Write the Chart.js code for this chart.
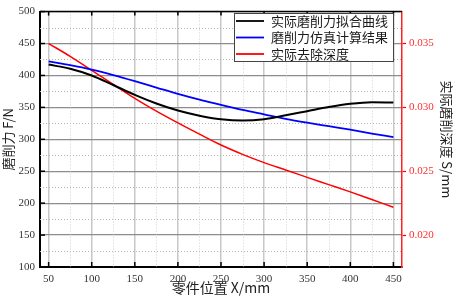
<!DOCTYPE html>
<html>
<head>
<meta charset="utf-8">
<script src="https://cdn.jsdelivr.net/npm/chart.js"></script>
<style>
  html, body { margin: 0; padding: 0; background: #fff; }
  #wrap { width: 453px; height: 299px; }
</style>
</head>
<body>
<div id="wrap"><canvas id="chart" width="453" height="299"></canvas></div>
<script>
// --- Data ---
const positions = [50, 75, 100, 125, 150, 175, 200, 225, 250, 275, 300, 325, 350, 375, 400, 425, 450];
const fitForce = [417, 410.5, 400, 385, 369.5, 356, 345, 337, 331.5, 329.5, 331.5, 337.5, 344, 350.5, 355.5, 358, 357.5];
const simForce = [422, 416, 409, 400.5, 391, 381, 371, 362, 354, 346, 339, 332, 326, 320.5, 315, 309, 303.5];
const cutDepth = [0.0350, 0.0340, 0.0329, 0.0318, 0.0307, 0.0297, 0.02878, 0.0279, 0.02705, 0.02632, 0.02567, 0.0251, 0.02452, 0.02395, 0.02338, 0.02278, 0.02218];

const xTicks = [50, 100, 150, 200, 250, 300, 350, 400, 450];
const forceTicks = [100, 150, 200, 250, 300, 350, 400, 450, 500];
const depthTicks = [0.020, 0.025, 0.030, 0.035];

const seriesLabels = ['实际磨削力拟合曲线', '磨削力仿真计算结果', '实际去除深度'];

const serif = "'Liberation Serif', 'DejaVu Serif', serif";
const cjk = "'Noto Sans CJK SC', sans-serif";

function toPoints(xs, ys) {
    return xs.map((x, i) => ({ x: x, y: ys[i] }));
}

// --- Minor grid, frame, inward ticks, legend ---
const decorPlugin = {
    id: 'decor',
    beforeDatasetsDraw(chart) {
        const { ctx, chartArea: a, scales } = chart;
        ctx.save();
        ctx.strokeStyle = '#b4b4b4';
        ctx.lineWidth = 1;
        ctx.setLineDash([1, 2]);
        for (let v = 125; v < 500; v += 50) {
            const y = Math.round(scales.y.getPixelForValue(v)) + 0.5;
            ctx.beginPath(); ctx.moveTo(a.left, y); ctx.lineTo(a.right, y); ctx.stroke();
        }
        ctx.strokeStyle = '#d0d0d0';
        for (let v = 75; v < 460; v += 50) {
            const x = Math.round(scales.x.getPixelForValue(v)) + 0.5;
            ctx.beginPath(); ctx.moveTo(x, a.top); ctx.lineTo(x, a.bottom); ctx.stroke();
        }
        ctx.restore();
    },
    afterDraw(chart) {
        const { ctx, chartArea: a, scales } = chart;
        ctx.save();
        // top frame line
        ctx.strokeStyle = '#000';
        ctx.lineWidth = 1.5;
        ctx.beginPath(); ctx.moveTo(a.left, a.top); ctx.lineTo(a.right, a.top); ctx.stroke();

        // inward ticks
        ctx.lineWidth = 1.5;
        forceTicks.forEach(v => {
            const y = scales.y.getPixelForValue(v);
            ctx.beginPath(); ctx.moveTo(a.left, y); ctx.lineTo(a.left + 5, y); ctx.stroke();
        });
        xTicks.forEach(v => {
            const x = scales.x.getPixelForValue(v);
            ctx.beginPath(); ctx.moveTo(x, a.bottom); ctx.lineTo(x, a.bottom - 5); ctx.stroke();
            ctx.beginPath(); ctx.moveTo(x, a.top); ctx.lineTo(x, a.top + 4); ctx.stroke();
        });

        // legend box
        const bx = 234, by = 13, bw = 159, bh = 48;
        ctx.fillStyle = '#fff';
        ctx.fillRect(bx, by, bw, bh);
        ctx.strokeStyle = '#444';
        ctx.lineWidth = 1;
        ctx.strokeRect(bx + 0.5, by + 0.5, bw, bh);
        ctx.font = '13px ' + cjk;
        ctx.textBaseline = 'middle';
        chart.data.datasets.forEach((ds, i) => {
            const y = 21 + i * 16.5;
            ctx.strokeStyle = ds.borderColor;
            ctx.lineWidth = 1.8;
            ctx.beginPath(); ctx.moveTo(bx + 2, y); ctx.lineTo(bx + 30, y); ctx.stroke();
            ctx.fillStyle = '#1a1a1a';
            ctx.fillText(ds.label, bx + 37, y);
        });
        ctx.restore();
    }
};

new Chart(document.getElementById('chart'), {
    type: 'line',
    data: {
        datasets: [
            {
                label: seriesLabels[0],
                data: toPoints(positions, fitForce),
                borderColor: '#000000',
                borderWidth: 2,
                yAxisID: 'y',
                pointRadius: 0,
                cubicInterpolationMode: 'monotone'
            },
            {
                label: seriesLabels[1],
                data: toPoints(positions, simForce),
                borderColor: '#0000ff',
                borderWidth: 1.8,
                yAxisID: 'y',
                pointRadius: 0,
                cubicInterpolationMode: 'monotone'
            },
            {
                label: seriesLabels[2],
                data: toPoints(positions, cutDepth),
                borderColor: '#ff0000',
                borderWidth: 1.5,
                yAxisID: 'y2',
                pointRadius: 0,
                cubicInterpolationMode: 'monotone'
            }
        ]
    },
    options: {
        responsive: false,
        animation: false,
        devicePixelRatio: 1,
        layout: { padding: { top: 5, left: 0, right: 0, bottom: 0 } },
        plugins: {
            legend: { display: false },
            tooltip: { enabled: false }
        },
        scales: {
            x: {
                type: 'linear',
                min: 40,
                max: 460,
                afterBuildTicks: s => { s.ticks = xTicks.map(v => ({ value: v })); },
                afterFit: s => { s.height = 32; },
                grid: { color: '#c8c8c8', lineWidth: 1.5, drawTicks: false },
                border: { color: '#000', width: 2 },
                ticks: { padding: 6, color: '#333', font: { family: serif, size: 11 } },
                title: {
                    display: true,
                    text: '零件位置 X/mm',
                    color: '#222',
                    font: { family: cjk, size: 14 },
                    padding: { top: 0, bottom: 3 }
                }
            },
            y: {
                type: 'linear',
                position: 'left',
                min: 100,
                max: 500,
                afterBuildTicks: s => { s.ticks = forceTicks.map(v => ({ value: v })); },
                afterFit: s => { s.width = 40; },
                grid: { color: '#8c8c8c', lineWidth: 1.3, drawTicks: false },
                border: { color: '#000', width: 2 },
                ticks: { padding: 5, color: '#333', font: { family: serif, size: 11 } },
                title: {
                    display: true,
                    text: '磨削力 F/N',
                    color: '#222',
                    font: { family: cjk, size: 13, lineHeight: 1 },
                    padding: { top: 2, bottom: 0 }
                }
            },
            y2: {
                type: 'linear',
                position: 'right',
                min: 0.0175,
                max: 0.0375,
                afterBuildTicks: s => { s.ticks = depthTicks.map(v => ({ value: v })); },
                afterFit: s => { s.width = 51; },
                grid: { drawOnChartArea: false, color: '#ff0000', tickLength: 4, tickWidth: 1.2 },
                border: { color: '#ff2020', width: 1.5 },
                ticks: {
                    padding: 3,
                    color: '#ff3030',
                    font: { family: serif, size: 11 },
                    callback: v => v.toFixed(3)
                },
                title: {
                    display: true,
                    text: '实际磨削深度 S/mm',
                    color: '#222',
                    font: { family: cjk, size: 13, lineHeight: 1 },
                    padding: { top: 0, bottom: 1 }
                }
            }
        }
    },
    plugins: [decorPlugin]
});
</script>
</body>
</html>
